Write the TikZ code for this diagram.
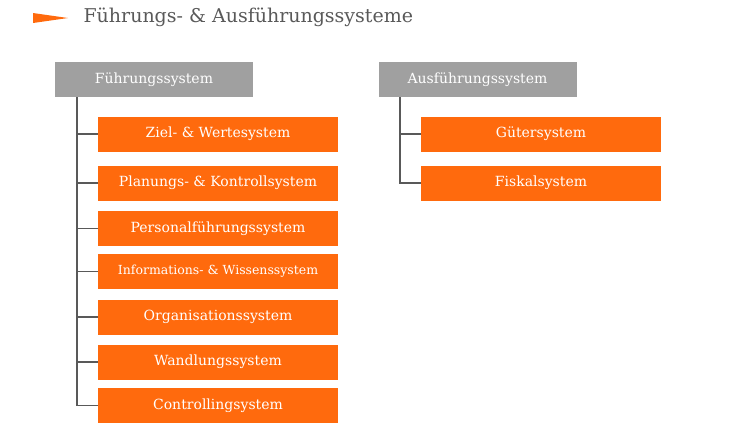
\documentclass[tikz,border=0pt]{standalone}
\usepackage{fontspec}
\setmainfont{DejaVu Serif}
\definecolor{og}{HTML}{FF6A0D}
\definecolor{gr}{HTML}{A0A0A0}
\definecolor{ln}{HTML}{595959}
\begin{document}
\begin{tikzpicture}[x=1pt,y=-1pt,
 gbox/.style={fill=gr,text=white,minimum width=198pt,minimum height=35pt,inner sep=0pt,font=\fontsize{14}{16}\selectfont},
 obox/.style={fill=og,text=white,minimum width=240pt,minimum height=35pt,inner sep=0pt,font=\fontsize{14}{16}\selectfont},
 conn/.style={draw=ln,line width=1.5pt}]
\useasboundingbox (0,0) rectangle (750,432);
\fill[og] (33,13) -- (68,18) -- (33,23) -- cycle;
\node[anchor=west,text=ln,font=\fontsize{19}{22}\selectfont] (title) at (80,17) {Führungs- \& Ausführungssysteme};
\node[gbox] (f) at (154,79.5) {Führungssystem};
\node[gbox] (a) at (477.5,79.5) {Ausführungssystem};
\foreach \n/\y/\t in {1/134/Ziel- \& Wertesystem,2/183/Planungs- \& Kontrollsystem,3/228.5/Personalführungssystem,5/317/Organisationssystem,6/362/Wandlungssystem,7/405.5/Controllingsystem}
  \node[obox] (o\n) at (218,\y) {\t};
\node[obox,font=\fontsize{12.5}{14}\selectfont] (o4) at (218,271.5) {Informations- \& Wissenssystem};
\node[obox] (p1) at (541,134) {Gütersystem};
\node[obox] (p2) at (541,183) {Fiskalsystem};
\coordinate (fl) at (77,0);
\draw[conn] (f.south -| fl) |- (o7.west);
\foreach \n in {1,...,6} \draw[conn] (o\n.west -| fl) -- (o\n.west);
\coordinate (al) at (400,0);
\draw[conn] (a.south -| al) |- (p2.west);
\draw[conn] (p1.west -| al) -- (p1.west);
\end{tikzpicture}
\end{document}
